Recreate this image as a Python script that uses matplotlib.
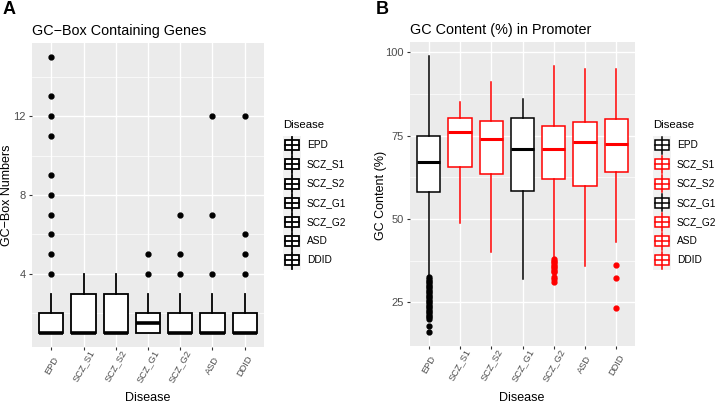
import matplotlib
matplotlib.use("Agg")
import matplotlib.pyplot as plt
from matplotlib.patches import Rectangle

plt.rcParams['font.family'] = ['Liberation Sans', 'DejaVu Sans']

categories = ["EPD", "SCZ_S1", "SCZ_S2", "SCZ_G1", "SCZ_G2", "ASD", "DDID"]

# Panel A: GC-box counts (box statistics)
a_q1 = [1, 1, 1, 1, 1, 1, 1]
a_med = [1, 1, 1, 1.5, 1, 1, 1]
a_q3 = [2, 3, 3, 2, 2, 2, 2]
a_whislo = [1, 1, 1, 1, 1, 1, 1]
a_whishi = [3, 4, 4, 3, 3, 3, 3]
a_fliers = [[4, 5, 6, 7, 8, 9, 11, 12, 13, 15], [], [], [4, 5], [4, 5, 7], [4, 7, 12], [4, 5, 6, 12]]

# Panel B: GC content (%) in promoter
b_q1 = [58.2, 65.7, 63.6, 58.4, 62.0, 60.0, 64.0]
b_med = [67.2, 76.2, 74.0, 71.0, 71.0, 73.0, 72.6]
b_q3 = [75.0, 80.4, 79.5, 80.4, 78.0, 79.2, 80.0]
b_whislo = [33.0, 48.8, 40.0, 32.0, 38.5, 36.0, 43.0]
b_whishi = [98.8, 85.0, 91.0, 86.0, 96.0, 95.0, 95.0]
b_fliers = [
    [32.5, 32.0, 31.5, 31.0, 30.5, 30.0, 29.5, 29.0, 28.5, 28.0, 27.5, 27.0, 26.5, 26.0,
     25.5, 25.0, 24.5, 24.0, 23.5, 23.0, 22.5, 22.0, 21.5, 21.0, 20.5, 20.0, 18.0, 16.0],
    [], [], [],
    [38.0, 37.5, 37.0, 36.5, 36.0, 35.5, 35.0, 34.5, 34.0, 32.5, 32.0, 31.0],
    [],
    [36.2, 32.3, 23.2],
]
a_colors = ["black"] * 7
b_colors = ["black", "red", "red", "black", "red", "red", "red"]

W, H = 717, 404
fig = plt.figure(figsize=(W / 100, H / 100), dpi=100)
fig.patch.set_facecolor("white")

PANEL_BG = "#EBEBEB"
TICK_COL = "#4D4D4D"


def px_axes(l, t, r, b):
    return fig.add_axes([l / W, 1 - b / H, (r - l) / W, (b - t) / H])


def draw_boxes(ax, q1, med, q3, lo, hi, fliers, colors, lw, ms):
    for i in range(len(categories)):
        st = dict(med=med[i], q1=q1[i], q3=q3[i], whislo=lo[i], whishi=hi[i], fliers=fliers[i])
        c = colors[i]
        ax.bxp([st], positions=[i + 1], widths=0.75, showcaps=False, patch_artist=True,
               manage_ticks=False,
               boxprops=dict(facecolor="white", edgecolor=c, linewidth=lw),
               whiskerprops=dict(color=c, linewidth=lw),
               medianprops=dict(color=c, linewidth=lw * 2),
               flierprops=dict(marker="o", markerfacecolor=c, markeredgecolor=c,
                               markersize=ms, linestyle="none"))


def style_axes(ax, ylim, majors, minors, title):
    ax.set_facecolor(PANEL_BG)
    for s in ax.spines.values():
        s.set_visible(False)
    ax.set_xlim(0.4, 7.6)
    ax.set_ylim(*ylim)
    ax.set_yticks(majors)
    ax.set_yticks(minors, minor=True)
    ax.set_xticks(range(1, 8))
    ax.set_xticklabels(categories, rotation=60, ha="center", va="center",
                       rotation_mode="anchor", fontsize=6.7, color=TICK_COL)
    ax.tick_params(axis="y", labelsize=8, labelcolor=TICK_COL, color="#333333",
                   length=2.5, width=0.8, pad=2)
    ax.tick_params(axis="x", color="#333333", length=2.5, width=0.8, pad=11.2)
    ax.tick_params(which="minor", length=0)
    ax.grid(True, which="major", color="white", linewidth=1.0)
    ax.grid(True, which="minor", axis="y", color="white", linewidth=0.5)
    ax.set_axisbelow(True)
    ax.set_title(title, fontsize=10.4, loc="left", pad=6)


# Panel A
axA = px_axes(32, 43, 264, 347)
draw_boxes(axA, a_q1, a_med, a_q3, a_whislo, a_whishi, a_fliers, a_colors, 1.3, 3.5)
style_axes(axA, (0.3, 15.7), [4, 8, 12], [2, 6, 10, 14], "GC\u2212Box Containing Genes")

# Panel B
axB = px_axes(410, 42, 635, 346)
draw_boxes(axB, b_q1, b_med, b_q3, b_whislo, b_whishi, b_fliers, b_colors, 1.1, 3.5)
style_axes(axB, (11.85, 103.15), [25, 50, 75, 100], [37.5, 62.5, 87.5],
           "GC Content (%) in Promoter")

# Overlay for panel letters, axis titles and legends (pixel coordinates)
ov = fig.add_axes([0, 0, 1, 1])
ov.set_xlim(0, W)
ov.set_ylim(H, 0)
ov.axis("off")
ov.text(3, 1, "A", fontsize=13, fontweight="bold", va="top", ha="left")
ov.text(376, 1, "B", fontsize=13, fontweight="bold", va="top", ha="left")

ov.text(148, 398, "Disease", fontsize=9, ha="center", va="center")
ov.text(522, 398, "Disease", fontsize=9, ha="center", va="center")
ov.text(7, 195, "GC\u2212Box Numbers", fontsize=9, ha="center", va="center", rotation=90)
ov.text(381, 195, "GC Content (%)", fontsize=9, ha="center", va="center", rotation=90)


def legend(x0, colors, lw):
    ov.text(x0, 125, "Disease", fontsize=8.2, va="center", ha="left")
    kh = 19.2
    kw = 18
    top = 135.5
    for i, lab in enumerate(categories):
        y0 = top + i * kh
        yc = y0 + kh / 2
        ov.add_patch(Rectangle((x0, y0), kw, kh, facecolor="#F2F2F2", edgecolor="none"))
        c = colors[i]
        ov.plot([x0 + kw / 2, x0 + kw / 2], [y0 + 1, y0 + kh - 1], color=c, lw=lw)
        ov.add_patch(Rectangle((x0 + 2, yc - 5), kw - 4, 10, facecolor="white",
                               edgecolor=c, lw=lw))
        ov.plot([x0 + 2, x0 + kw - 2], [yc, yc], color=c, lw=lw)
        ov.text(x0 + kw + 6, yc, lab, fontsize=7.3, va="center", ha="left")


legend(283, a_colors, 1.3)
legend(653, b_colors, 1.1)

fig.savefig("out.png", dpi=100)
